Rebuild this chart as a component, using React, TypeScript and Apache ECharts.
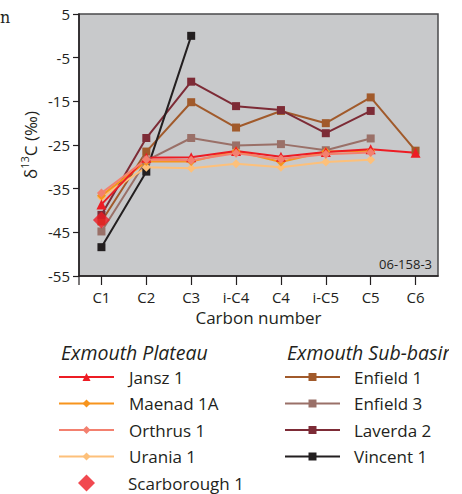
import React, { useEffect, useRef } from "react";
import * as echarts from "echarts";

const categories = ["C1", "C2", "C3", "i-C4", "C4", "i-C5", "C5", "C6"];

const jansz1 = [-38.6, -27.9, -27.8, -26.4, -27.7, -26.6, -26.0, -26.8];
const maenad1A = [-36.6, -28.8, -28.8, -26.4, -28.9, -26.5, -26.3, null];
const orthrus1 = [-36.0, -28.3, -28.5, -26.9, -28.2, -27.1, -26.7, null];
const urania1 = [-37.0, -30.1, -30.3, -29.3, -30.1, -28.9, -28.4, null];
const scarborough1 = [-42.2, null, null, null, null, null, null, null];
const enfield1 = [-42.5, -26.5, -15.2, -21.0, -17.2, -20.0, -14.1, -26.3];
const enfield3 = [-44.8, -28.6, -23.4, -25.1, -24.8, -26.2, -23.5, null];
const laverda2 = [-41.0, -23.4, -10.5, -16.1, -17.0, -22.3, -17.2, null];
const vincent1 = [-48.4, -31.1, 0.0, null, null, null, null, null];

const yTicks = { min: -55, max: 5, interval: 10 };

const FONT = "'Open Sans', 'Noto Sans', sans-serif";
const TEXT = "#231f20";

export default function App() {
  const ref = useRef<HTMLDivElement>(null);
  useEffect(() => {
    if (!ref.current) return;
    const chart = echarts.init(ref.current, undefined, { renderer: "svg" });

    const lineSeries = (
      name: string,
      data: (number | null)[],
      color: string,
      symbol: string,
      size: number
    ) => ({
      name,
      type: "line",
      data,
      symbol,
      symbolSize: size,
      showAllSymbol: true,
      connectNulls: false,
      lineStyle: { color, width: 2 },
      itemStyle: { color },
      emphasis: { disabled: true },
    });

    const legendBase = {
      orient: "vertical",
      padding: 0,
      itemWidth: 55,
      itemHeight: 10,
      itemGap: 6.5,
      selectedMode: false,
      textStyle: {
        fontFamily: FONT,
        fontSize: 17,
        color: TEXT,
        lineHeight: 20,
        padding: [0, 0, 0, 10],
      },
    };

    chart.setOption({
      animation: false,
      textStyle: { fontFamily: FONT },
      grid: {
        left: 79,
        right: 11,
        top: 14,
        bottom: 218,
        show: true,
        backgroundColor: "#c8c9cb",
        borderColor: "#4a4a4c",
        borderWidth: 1.5,
      },
      xAxis: {
        type: "category",
        data: categories,
        boundaryGap: true,
        name: "Carbon number",
        nameLocation: "middle",
        nameGap: 31,
        nameTextStyle: { fontFamily: FONT, fontSize: 17, color: TEXT },
        axisLine: { show: true, onZero: false, lineStyle: { color: TEXT, width: 1.5 } },
        axisTick: { show: true, alignWithLabel: true, length: 9, lineStyle: { color: TEXT, width: 1.2 } },
        axisLabel: { fontFamily: FONT, fontSize: 15, color: TEXT, margin: 13 },
        splitLine: { show: false },
      },
      yAxis: {
        type: "value",
        min: yTicks.min,
        max: yTicks.max,
        interval: yTicks.interval,
        name: "{a|δ}{s|13}{a|C (‰)}",
        nameLocation: "middle",
        nameGap: 38,
        nameRotate: 90,
        nameMoveOverlap: false,
        nameTextStyle: {
          fontFamily: FONT,
          color: TEXT,
          rich: {
            a: { fontFamily: FONT, fontSize: 17, color: TEXT, lineHeight: 22 },
            s: { fontFamily: FONT, fontSize: 11, color: TEXT, verticalAlign: "top", lineHeight: 14 },
          },
        },
        axisLine: { show: true, onZero: false, lineStyle: { color: TEXT, width: 1.5 } },
        axisTick: { show: true, length: 6, lineStyle: { color: TEXT, width: 1.2 } },
        axisLabel: { fontFamily: FONT, fontSize: 15, color: TEXT, margin: 9 },
        splitLine: { show: false },
      },
      legend: [
        {
          ...legendBase,
          left: 58,
          top: 367,
          data: ["Jansz 1", "Maenad 1A", "Orthrus 1", "Urania 1"],
        },
        {
          ...legendBase,
          left: 78,
          top: 473,
          itemWidth: 17,
          itemHeight: 17,
          textStyle: { ...legendBase.textStyle, padding: [0, 0, 0, 28] },
          data: [{ name: "Scarborough 1", icon: "diamond" }],
        },
        {
          ...legendBase,
          left: 284,
          top: 367,
          textStyle: { ...legendBase.textStyle, padding: [0, 0, 0, 9] },
          data: ["Enfield 1", "Enfield 3", "Laverda 2", "Vincent 1"],
        },
      ],
      graphic: [
        {
          type: "text",
          left: 0,
          top: 9,
          style: { text: "n", fontFamily: "'DejaVu Serif', serif", fontSize: 16, fill: TEXT },
        },
        {
          type: "text",
          x: 61,
          y: 352,
          style: {
            text: "Exmouth Plateau",
            fontFamily: FONT,
            fontStyle: "italic",
            fontSize: 19.5,
            fill: TEXT,
            verticalAlign: "middle",
          },
        },
        {
          type: "text",
          x: 287,
          y: 352,
          style: {
            text: "Exmouth Sub-basin",
            fontFamily: FONT,
            fontStyle: "italic",
            fontSize: 19.5,
            fill: TEXT,
            verticalAlign: "middle",
          },
        },
        {
          type: "text",
          x: 432,
          y: 264,
          z: 100,
          style: {
            text: "06-158-3",
            fontFamily: FONT,
            fontSize: 13,
            fill: TEXT,
            align: "right",
            verticalAlign: "middle",
          },
        },
        {
          type: "line",
          z: 100,
          shape: { x1: 79, y1: 276, x2: 79, y2: 285 },
          style: { stroke: TEXT, lineWidth: 1.2 },
        },
      ],
      series: [
        lineSeries("Enfield 3", enfield3, "#9a7068", "rect", 8),
        lineSeries("Enfield 1", enfield1, "#a15a2b", "rect", 8),
        lineSeries("Laverda 2", laverda2, "#7d2b36", "rect", 8),
        lineSeries("Vincent 1", vincent1, "#231f20", "rect", 8),
        lineSeries("Urania 1", urania1, "#fdc07a", "diamond", 9),
        lineSeries("Maenad 1A", maenad1A, "#f7941d", "diamond", 9),
        lineSeries("Jansz 1", jansz1, "#ed1c24", "triangle", 10),
        lineSeries("Orthrus 1", orthrus1, "#f3806f", "diamond", 9),
        {
          name: "Scarborough 1",
          type: "scatter",
          data: scarborough1,
          symbol: "diamond",
          symbolSize: 17,
          itemStyle: { color: "#ed1c24" },
          emphasis: { disabled: true },
          z: 5,
        },
      ],
    });
    return () => chart.dispose();
  }, []);

  return (
    <div
      style={{ position: "absolute", left: 0, top: 0, width: 449, height: 494, overflow: "hidden", background: "#fff" }}
    >
      <div ref={ref} style={{ width: 449, height: 494 }} />
    </div>
  );
}
